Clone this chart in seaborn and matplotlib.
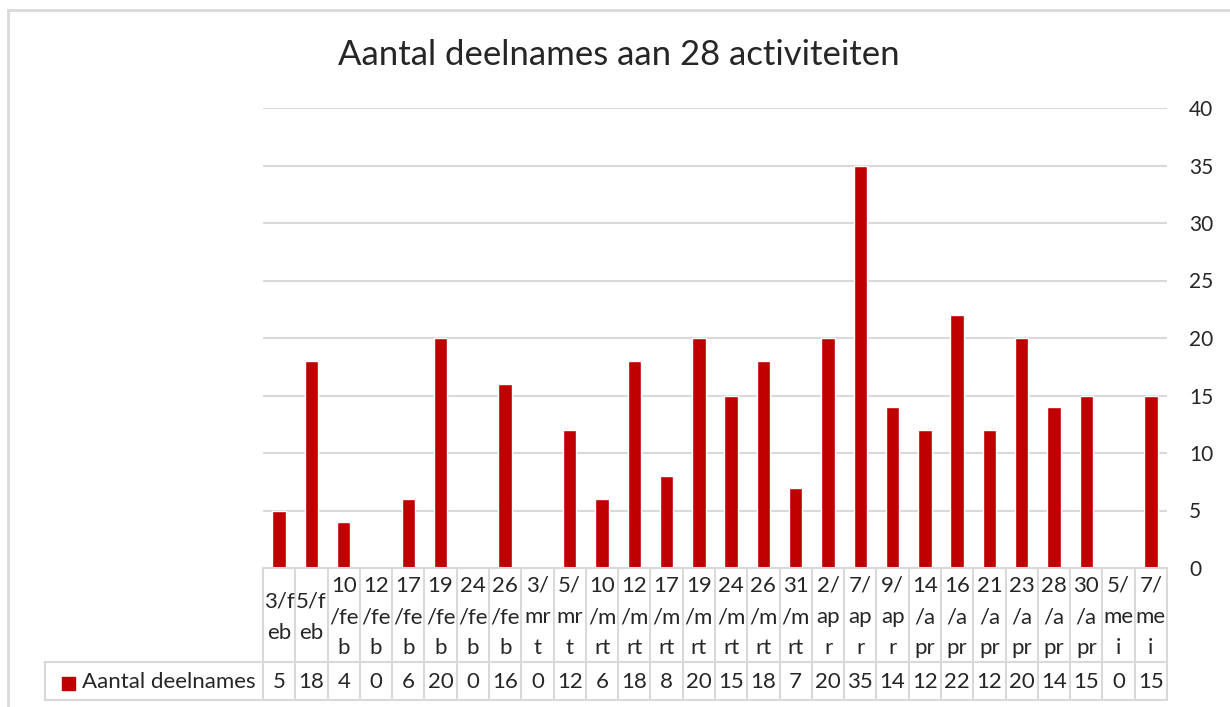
import matplotlib
matplotlib.use("Agg")
import matplotlib.pyplot as plt
import matplotlib.transforms as mtransforms
import seaborn as sns
import pandas as pd

# data
dates = ["3/feb", "5/feb", "10/feb", "12/feb", "17/feb", "19/feb", "24/feb",
         "26/feb", "3/mrt", "5/mrt", "10/mrt", "12/mrt", "17/mrt", "19/mrt",
         "24/mrt", "26/mrt", "31/mrt", "2/apr", "7/apr", "9/apr", "14/apr",
         "16/apr", "21/apr", "23/apr", "28/apr", "30/apr", "5/mei", "7/mei"]
deelnames = [5, 18, 4, 0, 6, 20, 0, 16, 0, 12, 6, 18, 8, 20, 15, 18, 7, 20,
             35, 14, 12, 22, 12, 20, 14, 15, 0, 15]
# labels as Excel wrapped them in the narrow table cells
tick_labels = ["3/f\neb", "5/f\neb", "10\n/fe\nb", "12\n/fe\nb", "17\n/fe\nb",
               "19\n/fe\nb", "24\n/fe\nb", "26\n/fe\nb", "3/\nmr\nt", "5/\nmr\nt",
               "10\n/m\nrt", "12\n/m\nrt", "17\n/m\nrt", "19\n/m\nrt", "24\n/m\nrt",
               "26\n/m\nrt", "31\n/m\nrt", "2/\nap\nr", "7/\nap\nr", "9/\nap\nr",
               "14\n/a\npr", "16\n/a\npr", "21\n/a\npr", "23\n/a\npr", "28\n/a\npr",
               "30\n/a\npr", "5/\nme\ni", "7/\nme\ni"]
series_name = "Aantal deelnames"
title = "Aantal deelnames aan 28 activiteiten"
yticks = [0, 5, 10, 15, 20, 25, 30, 35, 40]

sns.set_style("white")
plt.rcParams["font.family"] = ["Lato", "DejaVu Sans"]

RED = "#C00000"
GRID = "#D9D9D9"

df = pd.DataFrame({"datum": dates, "n": deelnames})

fig = plt.figure(figsize=(12.3, 7.07), dpi=100)
W, H = 1230, 707
ax = fig.add_axes([263 / W, 1 - 568 / H, (1167 - 263) / W, (568 - 108) / H])

sns.barplot(data=df, x="datum", y="n", color=RED, saturation=1, width=0.42, ax=ax)

ax.set_ylim(0, 40)
ax.set_xlim(-0.5, len(dates) - 0.5)
ax.set_yticks(yticks)
ax.yaxis.tick_right()
ax.tick_params(axis="y", length=0, pad=16, labelsize=15)
ax.set_xticks([])
ax.set_xlabel("")
ax.set_ylabel("")
for y in yticks[1:]:
    ax.axhline(y, color=GRID, lw=1.5, zorder=0)
for s in ax.spines.values():
    s.set_visible(False)

# data table under the plot
px = mtransforms.blended_transform_factory(ax.transData, fig.transFigure)
fy = lambda p: 1 - p / H
top, mid, bot = 568, 662, 700
n = len(dates)
line_kw = dict(color=GRID, lw=1.5, clip_on=False)
fig.add_artist(plt.Line2D([-0.5, n - 0.5], [fy(top), fy(top)], transform=px, **line_kw))
fig.add_artist(plt.Line2D([45 / W, 1167 / W], [fy(mid), fy(mid)], transform=fig.transFigure, **line_kw))
fig.add_artist(plt.Line2D([45 / W, 1167 / W], [fy(bot), fy(bot)], transform=fig.transFigure, **line_kw))
fig.add_artist(plt.Line2D([45 / W, 45 / W], [fy(mid), fy(bot)], transform=fig.transFigure, **line_kw))
for i in range(n + 1):
    fig.add_artist(plt.Line2D([i - 0.5, i - 0.5], [fy(top), fy(bot)], transform=px, **line_kw))
for i in range(n):
    fig.text(i, fy((top + mid) / 2 + 2), tick_labels[i], transform=px, ha="center",
             va="center", fontsize=16, linespacing=1.7)
    fig.text(i, fy((mid + bot) / 2 + 1), str(deelnames[i]), transform=px, ha="center",
             va="center", fontsize=16)

fig.add_artist(plt.Rectangle((62 / W, fy(690)), 13 / W, 13 / H, color=RED,
                             transform=fig.transFigure))
fig.text(82 / W, fy((mid + bot) / 2 + 1), series_name, ha="left", va="center", fontsize=16)

# chart area border (top and left edges visible)
fig.add_artist(plt.Line2D([8 / W, 8 / W], [0, fy(10)], color=GRID, lw=2))
fig.add_artist(plt.Line2D([8 / W, 1], [fy(10), fy(10)], color=GRID, lw=2))

fig.text(619 / W, fy(55), title, ha="center", va="center", fontsize=25)

fig.savefig("out.png", dpi=100)
